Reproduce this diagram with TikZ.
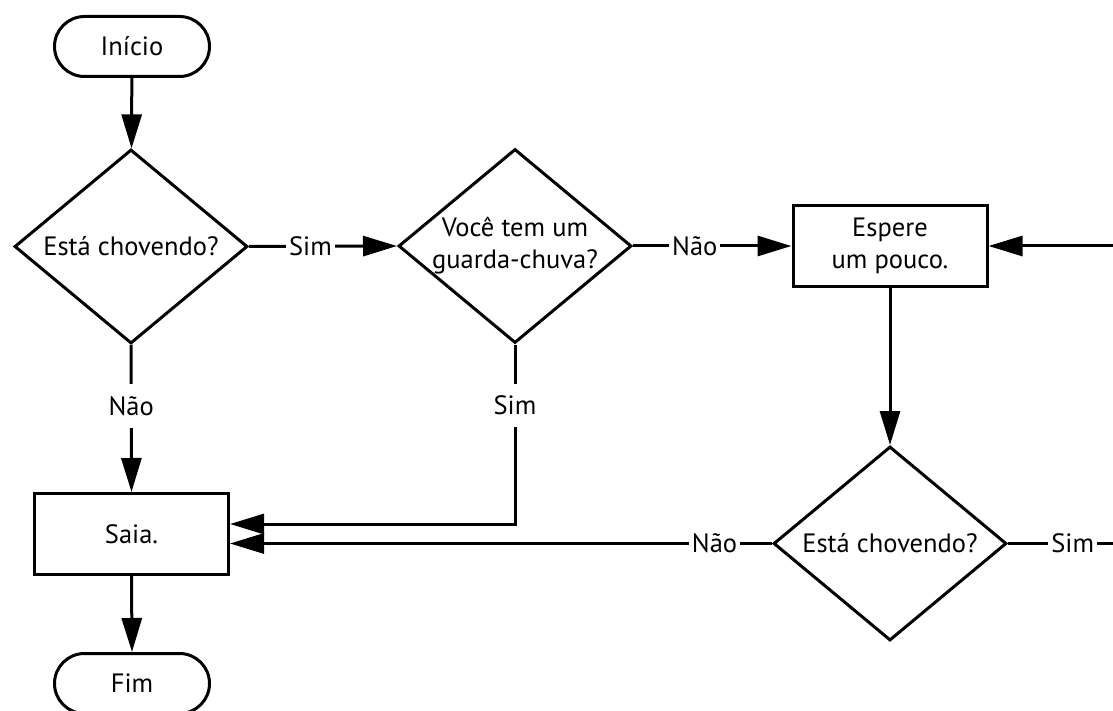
\documentclass[tikz,border=0pt]{standalone}
\usepackage{fontspec}
\setmainfont{PT Sans}
\usetikzlibrary{shapes.geometric,shapes.misc,arrows.meta,calc}
\begin{document}
\begin{tikzpicture}[x=1pt,y=-1pt,
  every node/.style={font=\fontsize{26.5}{32}\selectfont},
  conn/.style={line width=3pt},
  arr/.style={conn, -{Triangle[length=34pt,width=20pt]}},
  terminal/.style={draw, line width=3pt, rounded rectangle,
    minimum width=155pt, minimum height=60pt, inner sep=0pt},
  decision/.style={draw, line width=3pt, diamond, aspect=1.2,
    minimum width=233pt, minimum height=194pt, inner sep=-18pt, align=center},
  process/.style={draw, line width=3pt, rectangle,
    minimum width=194pt, minimum height=81pt, inner sep=0pt, align=center},
  lbl/.style={fill=white, inner xsep=3pt, inner ysep=12pt}]
\useasboundingbox (0,0) rectangle (1113,711);

% shapes
\node[terminal] (start) at (132,46.5) {Início};
\node[decision] (d1) at (131,246.5) {Está chovendo?};
\node[decision] (d2) at (515,246) {Você tem um\\guarda-chuva?};
\node[process]  (wait) at (890,246) {Espere\\um pouco.};
\node[decision] (d3) at (890,543.5) {Está chovendo?};
\node[process]  (exit) at (131.5,534) {Saia.};
\node[terminal] (end) at (132,683.5) {Fim};

% return point of the loop, right of the page
\coordinate (loop) at (1130,543.5);

% connectors
\draw[arr] (start) -- (d1);
\draw[arr] (d1.east) -- node[lbl,pos=0.415] (s1) {Sim} (d2.west);
\draw[arr] (d2.east) -- node[lbl,pos=0.39] (n2) {Não} (wait.west);
\draw[arr] (d1.south) -- node[lbl,pos=0.415] (n1) {Não} (exit.north);
\draw[arr] (d2.south) |- node[lbl,pos=0.169] (s2) {Sim} ($(exit.east)+(0,-10)$);
\draw[arr] (wait.south) -- (d3.north);
\draw[arr] (d3.west) -- node[lbl,pos=0.106] (n3) {Não} (d3.west -| exit.east);
\draw[arr] (d3.east) -- node[lbl,pos=0.53] (s3) {Sim} (loop) |- (wait.east);
\draw[arr] (exit.south) -- (end.north);
\end{tikzpicture}
\end{document}
